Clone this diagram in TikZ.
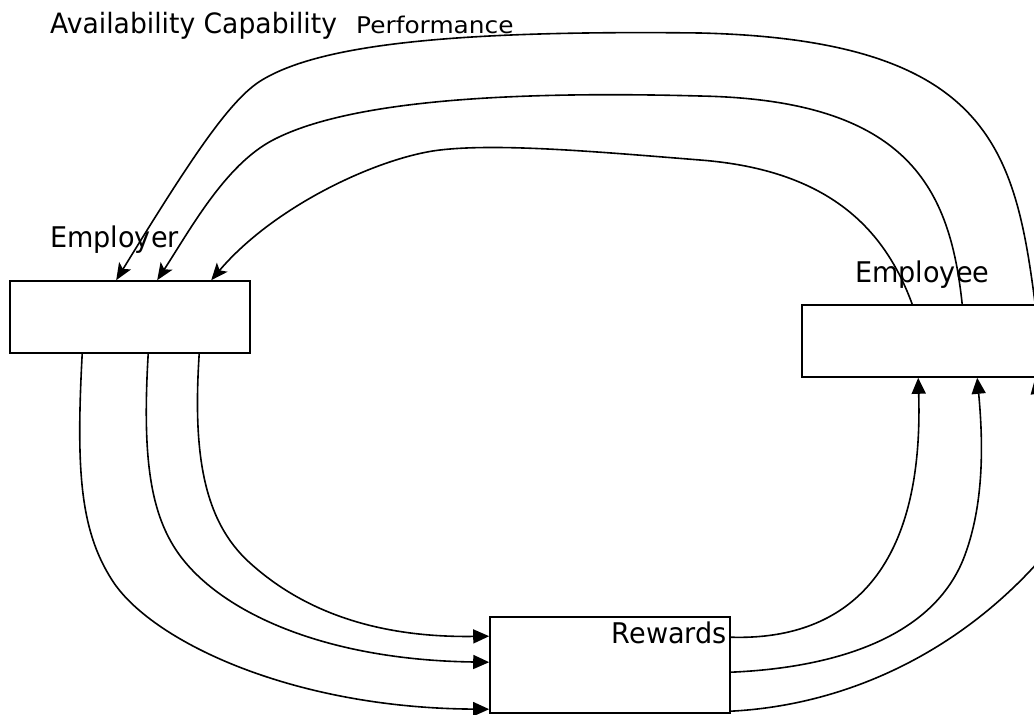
\documentclass[tikz,border=0pt]{standalone}
\usepackage{fontspec}
\setmainfont{DejaVu Sans}
\newfontfamily\narrowfont[FakeStretch=0.95]{DejaVu Sans}
\newfontfamily\perffont[FakeStretch=1.08]{DejaVu Sans}
\usetikzlibrary{arrows.meta}

\begin{document}
\begin{tikzpicture}[x=1pt,y=-1pt,
  box/.style={draw, line width=1.6pt, fill=white, inner sep=0pt,
              minimum width=240pt, minimum height=72pt},
  lbl/.style={inner sep=0pt, font=\narrowfont\fontsize{28.5}{30}\selectfont},
  conn/.style={line width=1.6pt},
  downhead/.style={-{Stealth[length=17pt,width=14pt,inset=4pt]}},
  inhead/.style={-{Triangle[length=16pt,width=14pt]}}]

\useasboundingbox (0,0) rectangle (1034,715);
\clip (0,0) rectangle (1034,715);

% boxes
\node[box] (employer) at (130,317) {};
\node[box, minimum width=248pt] (employee) at (926,341) {};
\node[box, minimum height=96pt] (rewards) at (610,665) {};

% labels
\node[inner sep=0pt, anchor=base west, font=\narrowfont\fontsize{28}{30}\selectfont]
  (title) at (50,33) {Availability Capability};
\node[inner sep=0pt, anchor=base west, font=\perffont\fontsize{23}{26}\selectfont]
  (perf) at (356,33) {Performance};
\node[lbl, anchor=base west] (employerlbl) at (50,247) {Employer};
\node[lbl, anchor=base west] (employeelbl) at (855,282) {Employee};
\node[lbl, anchor=base east] (rewardslbl) at (727,643) {Rewards};

% connection points on the boxes
\coordinate (er-a) at ([xshift=107pt]employer.north west);
\coordinate (er-b) at ([xshift=148pt]employer.north west);
\coordinate (er-c) at ([xshift=202pt]employer.north west);
\coordinate (er-d) at ([xshift=73pt]employer.south west);
\coordinate (er-e) at ([xshift=139pt]employer.south west);
\coordinate (er-f) at ([xshift=190pt]employer.south west);

\coordinate (rw-a) at ([yshift=-20pt]rewards.north west);
\coordinate (rw-b) at ([yshift=-46pt]rewards.north west);
\coordinate (rw-c) at ([yshift=-93pt]rewards.north west);
\coordinate (rw-d) at ([yshift=-21pt]rewards.north east);
\coordinate (rw-e) at ([yshift=-56pt]rewards.north east);
\coordinate (rw-f) at ([yshift=-95pt]rewards.north east);

\coordinate (ee-a) at ([xshift=111pt]employee.north west);
\coordinate (ee-b) at ([xshift=161pt]employee.north west);
\coordinate (ee-c) at ([xshift=234pt]employee.north west);
\coordinate (ee-d) at ([xshift=117pt]employee.south west);
\coordinate (ee-e) at ([xshift=176pt]employee.south west);
\coordinate (ee-f) at ([xshift=234pt]employee.south west);

% employee -> employer, over the top
\draw[conn, downhead] (ee-c)
  .. controls (1015,150) and (990,40) .. (700,33)
  .. controls (450,30) and (320,45) .. (262,80)
  .. controls (230,99) and (190,160) .. (er-a);
\draw[conn, downhead] (ee-b)
  .. controls (950,190) and (910,100) .. (700,96)
  .. controls (480,90) and (340,105) .. (273,140)
  .. controls (225,165) and (190,230) .. (er-b);
\draw[conn, downhead] (ee-a)
  .. controls (885,230) and (830,170) .. (700,160)
  .. controls (600,152) and (500,143) .. (440,150)
  .. controls (380,157) and (275,205) .. (er-c);

% employer -> rewards
\draw[conn, inhead] (er-d)
  .. controls (76,470) and (80,530) .. (112,580)
  .. controls (150,640) and (290,708) .. (rw-c);
\draw[conn, inhead] (er-e)
  .. controls (142,460) and (150,520) .. (185,562)
  .. controls (230,616) and (330,660) .. (rw-b);
\draw[conn, inhead] (er-f)
  .. controls (193,450) and (202,520) .. (250,563)
  .. controls (292,601) and (360,638) .. (rw-a);

% rewards -> employee
\draw[conn, inhead] (rw-d)
  .. controls (820,640) and (925,600) .. (ee-d);
\draw[conn, inhead] (rw-e)
  .. controls (830,668) and (930,640) .. (963,560)
  .. controls (985,505) and (983,440) .. (ee-e);
\draw[conn, inhead] (rw-f)
  .. controls (850,705) and (960,650) .. (1040,560)
  .. controls (1070,520) and (1045,440) .. (ee-f);
\end{tikzpicture}
\end{document}
